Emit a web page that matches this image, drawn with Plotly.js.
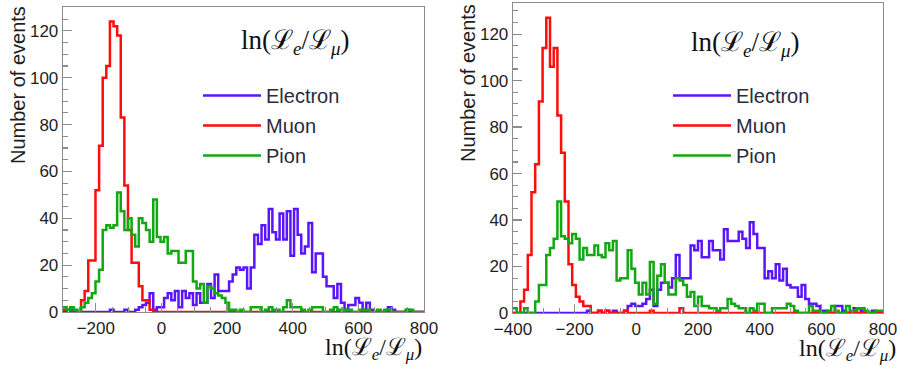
<!DOCTYPE html>
<html><head><meta charset="utf-8">
<script src="https://cdn.plot.ly/plotly-3.0.1.min.js"></script>
<style>html,body{margin:0;padding:0;background:#fff}#chart{width:901px;height:366px}</style>
</head><body><div id="chart"></div>
<script>
// Histogram binning (value ranges, number of bins)
const leftRange = [-300, 800];
const leftNBins = 100;
const rightRange = [-400, 800];
const rightNBins = 100;

const seriesNames = ["Electron", "Muon", "Pion"];
const leftTicks = [-200, 0, 200, 400, 600, 800];
const rightTicks = [-400, -200, 0, 200, 400, 600, 800];
const yTicks = [0, 20, 40, 60, 80, 100, 120];

// Left panel counts per bin
const leftElectron = [
 0,1,1,0,0,0,0,0,0,0,
 0,0,0,1,0,0,0,1,0,0,
 1,2,3,4,8,1,2,2,6,8,
 5,9,2,9,6,8,3,8,4,4,
 12,6,16,9,9,9,13,16,19,18,
 19,10,19,33,29,37,31,44,34,31,
 42,31,43,24,44,33,25,28,38,17,
 25,25,15,11,11,6,12,4,1,3,
 3,6,4,1,4,1,0,0,0,0,
 2,1,0,0,0,1,0,0,0,0];
const leftMuon = [
 1,1,0,0,0,5,9,22,22,52,
 71,100,105,124,122,118,83,54,35,21,
 21,11,5,5,1,0,0,0,0,0,
 0,0,0,0,0,0,0,0,0,0,
 0,0,0,0,0,0,0,0,0,0,
 0,0,0,0,0,0,0,0,0,0,
 0,0,0,0,0,0,0,0,0,0,
 0,0,0,0,0,0,0,0,0,0,
 0,0,0,0,0,0,0,0,0,0,
 0,0,0,0,0,0,0,0,0,0];
const leftPion = [
 2,1,2,1,0,2,4,6,8,13,
 18,35,37,36,37,51,43,35,40,33,
 28,40,38,35,30,48,32,30,32,25,
 26,26,21,21,26,26,13,10,12,4,
 11,10,8,7,6,4,1,1,0,1,
 0,0,2,2,2,0,1,2,1,1,
 0,2,5,2,2,2,1,0,1,2,
 2,2,0,0,1,2,1,0,1,1,
 0,0,1,1,1,0,0,1,0,1,
 1,0,0,0,0,1,1,0,0,0];

// Right panel counts per bin
const rightElectron = [
 0,0,0,0,0,0,0,0,0,0,
 0,0,0,0,0,0,0,0,0,0,
 1,0,0,1,0,1,0,1,0,0,
 1,3,4,3,3,4,6,10,3,10,
 13,13,11,15,25,15,15,15,29,27,
 31,24,24,31,27,27,23,36,31,31,
 31,35,32,28,39,34,28,28,15,18,
 15,21,14,19,12,11,11,7,12,6,
 4,4,3,1,1,0,0,3,3,1,
 0,0,2,2,1,0,0,1,0,0];
const rightMuon = [
 0,0,5,10,25,52,64,91,114,127,
 106,114,85,69,48,21,12,7,5,3,
 3,0,0,1,0,1,0,0,0,0,
 1,0,0,0,0,0,0,1,0,0,
 0,0,0,0,0,2,0,0,0,0,
 0,0,0,0,0,0,0,0,0,0,
 0,0,0,0,0,0,0,0,0,0,
 0,0,0,0,0,0,0,0,0,0,
 0,0,0,0,0,0,0,0,0,0,
 0,0,0,0,0,0,0,0,0,0];
const rightPion = [
 2,0,0,2,0,0,5,12,12,25,
 28,32,48,33,32,30,34,32,23,28,
 25,25,29,25,24,30,27,31,14,15,
 15,27,19,13,8,13,8,22,4,16,
 21,13,8,8,15,14,12,7,9,3,
 7,3,3,2,2,1,2,2,6,4,
 3,2,2,0,2,1,4,4,0,0,
 2,2,2,2,4,3,1,0,0,0,
 3,1,1,0,0,1,3,1,0,0,
 3,1,1,2,2,1,0,0,1,1];

const colors = ["#5a14ff", "#ff0d0d", "#12a812"];
const lnTitle = "ln(ℒ<sub><i>e</i></sub>/ℒ<sub><i>μ</i></sub>)";

function steps(range, n, counts) {
  const w = (range[1] - range[0]) / n;
  const x = [], y = [];
  for (let i = 0; i <= n; i++) {
    x.push(range[0] + w * i);
    y.push(counts[Math.min(i, n - 1)]);
  }
  return {x, y};
}

const traces = [];
[[leftElectron, leftMuon, leftPion], [rightElectron, rightMuon, rightPion]].forEach((set, p) => {
  const range = p === 0 ? leftRange : rightRange;
  const n = p === 0 ? leftNBins : rightNBins;
  set.forEach((counts, k) => {
    const s = steps(range, n, counts);
    traces.push({
      type: "scatter", mode: "lines", x: s.x, y: s.y,
      name: seriesNames[k],
      xaxis: p === 0 ? "x" : "x2", yaxis: p === 0 ? "y" : "y2",
      legend: p === 0 ? "legend" : "legend2",
      legendgroup: "g" + p + k,
      line: {shape: "hv", color: colors[k], width: 2.5},
      hoverinfo: "skip"
    });
  });
});

const W = 901, H = 366;
const sans = "Liberation Sans, Arial, Helvetica, sans-serif";
const serif = "Liberation Serif, DejaVu Serif, Times New Roman, serif";
const axisCommon = {
  showgrid: false, zeroline: false, showline: true, mirror: true,
  linecolor: "#8c8c8c", linewidth: 1.3,
  ticks: "inside", ticklen: 9, tickcolor: "#8c8c8c", tickwidth: 1.2,
  tickfont: {family: sans, size: 17, color: "#1e1e1e"},
  fixedrange: true
};
function xax(domain, range, ticks, anchor) {
  return Object.assign({}, axisCommon, {
    domain, range, anchor, tickmode: "array", tickvals: ticks,
    ticktext: ticks.map(v => v < 0 ? "\u2212" + Math.abs(v) : String(v)),
    minor: {dtick: 50, ticks: "inside", ticklen: 5, tickcolor: "#8c8c8c", tickwidth: 1.1}
  });
}
function yax(domain, range, anchor) {
  return Object.assign({}, axisCommon, {
    domain, range, anchor, tickmode: "array", tickvals: yTicks,
    minor: {dtick: 5, ticks: "inside", ticklen: 5, tickcolor: "#8c8c8c", tickwidth: 1.1}
  });
}
const legendCommon = {
  font: {family: sans, size: 20, color: "#2a2a3c"},
  bgcolor: "rgba(0,0,0,0)", borderwidth: 0, itemwidth: 58,
  xanchor: "left", yanchor: "top", tracegroupgap: 1, itemclick: false, itemdoubleclick: false
};

const layout = {
  width: W, height: H,
  margin: {l: 0, r: 0, t: 0, b: 0},
  paper_bgcolor: "#ffffff", plot_bgcolor: "#ffffff",
  showlegend: true,
  xaxis: xax([63 / W, 424 / W], leftRange, leftTicks, "y"),
  yaxis: yax([(H - 312) / H, (H - 7) / H], [0, 130.2], "x"),
  xaxis2: xax([513 / W, 883 / W], rightRange, rightTicks, "y2"),
  yaxis2: yax([(H - 313) / H, (H - 3) / H], [0, 133.4], "x2"),
  legend: Object.assign({}, legendCommon, {x: 198 / W, y: (H - 76) / H}),
  legend2: Object.assign({}, legendCommon, {x: 668 / W, y: (H - 76) / H}),
  annotations: [
    {text: "Number of events", xref: "paper", yref: "paper", x: 18 / W, y: (H - 4) / H,
     xanchor: "center", yanchor: "top", textangle: -90, showarrow: false,
     font: {family: sans, size: 20, color: "#1e1e1e"}},
    {text: "Number of events", xref: "paper", yref: "paper", x: 468 / W, y: (H - 2) / H,
     xanchor: "center", yanchor: "top", textangle: -90, showarrow: false,
     font: {family: sans, size: 20, color: "#1e1e1e"}},
    {text: lnTitle, xref: "paper", yref: "paper", x: 424 / W, y: (H - 349) / H,
     xanchor: "right", yanchor: "middle", showarrow: false,
     font: {family: serif, size: 24, color: "#111"}},
    {text: lnTitle, xref: "paper", yref: "paper", x: 898 / W, y: (H - 350) / H,
     xanchor: "right", yanchor: "middle", showarrow: false,
     font: {family: serif, size: 24, color: "#111"}},
    {text: lnTitle, xref: "paper", yref: "paper", x: 295 / W, y: (H - 42) / H,
     xanchor: "center", yanchor: "middle", showarrow: false,
     font: {family: serif, size: 27, color: "#111"}},
    {text: lnTitle, xref: "paper", yref: "paper", x: 745 / W, y: (H - 44) / H,
     xanchor: "center", yanchor: "middle", showarrow: false,
     font: {family: serif, size: 27, color: "#111"}}
  ]
};

Plotly.newPlot("chart", traces, layout, {staticPlot: true, displayModeBar: false});
</script>
</body></html>
